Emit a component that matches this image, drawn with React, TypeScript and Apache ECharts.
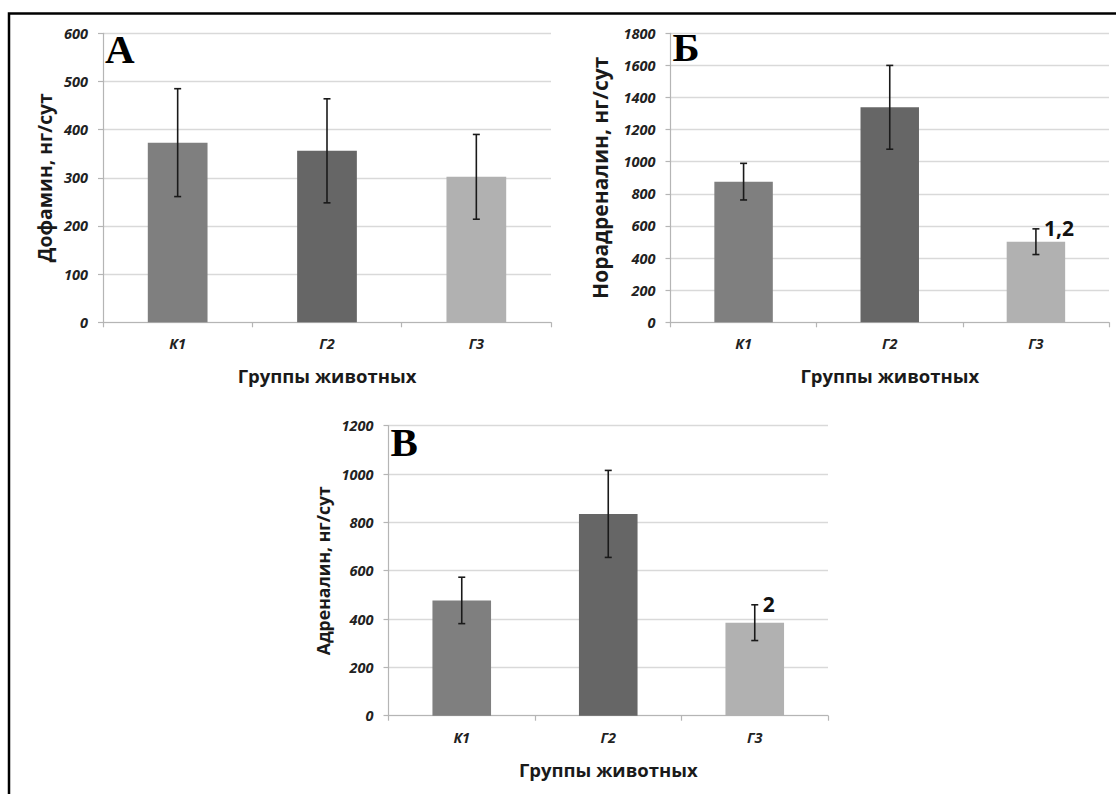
import { useEffect, useRef } from 'react';
import * as echarts from 'echarts';

const categories = ['К1', 'Г2', 'Г3'];
const dopamine = [373, 356, 302];
const dopamineErr = [112, 108, 88];
const noradrenaline = [876, 1339, 502];
const noradrenalineErr = [114, 261, 80];
const adrenaline = [477, 835, 385];
const adrenalineErr = [96, 180, 74];
const notesA = ['', '', ''];
const notesB = ['', '', '1,2'];
const notesC = ['', '', '2'];
const panelLetters = ['А', 'Б', 'В'];
const yNames = ['Дофамин, нг/сут', 'Норадреналин, нг/сут', 'Адреналин, нг/сут'];
const xName = 'Группы животных';
const yMax = [600, 1800, 1200];
const yStep = [100, 200, 200];

const barColors = ['#7f7f7f', '#666666', '#b1b1b1'];
const SANS = '"Open Sans", sans-serif';
const TICKFONT = '"Open Sans", sans-serif';

export default function App() {
  const ref = useRef<HTMLDivElement>(null);
  useEffect(() => {
    if (!ref.current) return;
    const chart = echarts.init(ref.current, undefined, { renderer: 'svg' });
    const grids = [
      { left: 103, top: 33.3, width: 448, height: 289 },
      { left: 670.5, top: 33.3, width: 438.5, height: 289 },
      { left: 388.5, top: 425.7, width: 439.5, height: 290 },
    ];
    const nameGaps = [49, 60, 56.5];
    const nameSizes = [19.3, 21, 17.6];
    const values = [dopamine, noradrenaline, adrenaline];
    const errs = [dopamineErr, noradrenalineErr, adrenalineErr];
    const notes = [notesA, notesB, notesC];

    const errRender = (nts: string[]) => (params: any, api: any) => {
      const i = api.value(0);
      const mean = api.value(1);
      const e = api.value(2);
      const top = api.coord([i, mean + e]);
      const bot = api.coord([i, mean - e]);
      const hw = 3.5;
      const style = { stroke: '#1a1a1a', lineWidth: 1.6 };
      const children: any[] = [
        { type: 'line', shape: { x1: top[0], y1: top[1], x2: bot[0], y2: bot[1] }, style },
        { type: 'line', shape: { x1: top[0] - hw, y1: top[1], x2: top[0] + hw, y2: top[1] }, style },
        { type: 'line', shape: { x1: bot[0] - hw, y1: bot[1], x2: bot[0] + hw, y2: bot[1] }, style },
      ];
      const note = nts[params.dataIndex];
      if (note) {
        children.push({
          type: 'text',
          x: top[0] + 8,
          y: top[1] - 1,
          style: {
            text: note,
            fontFamily: SANS,
            fontWeight: 'bold',
            fontSize: 21,
            fill: '#111',
            align: 'left',
            verticalAlign: 'middle',
          },
        });
      }
      return { type: 'group', children };
    };

    const tickLabel = {
      fontFamily: TICKFONT,
      fontWeight: 'bold',
      fontStyle: 'italic',
      fontSize: 14.5,
      color: '#222',
    };

    const option: any = {
      animation: false,
      backgroundColor: '#fff',
      grid: grids,
      xAxis: grids.map((_, g) => ({
        gridIndex: g,
        type: 'category',
        data: categories,
        name: xName,
        nameLocation: 'middle',
        nameGap: 44,
        nameTextStyle: { fontFamily: SANS, fontWeight: 'bold', fontSize: 18.5, color: '#1a1a1a' },
        axisLine: { lineStyle: { color: '#b5b5b5', width: 1.2 } },
        axisTick: { show: true, length: 5, lineStyle: { color: '#b5b5b5', width: 1.2 } },
        axisLabel: { margin: 14, ...tickLabel },
      })),
      yAxis: grids.map((_, g) => ({
        gridIndex: g,
        type: 'value',
        min: 0,
        max: yMax[g],
        interval: yStep[g],
        name: yNames[g],
        nameLocation: 'middle',
        nameGap: nameGaps[g],
        nameTextStyle: { fontFamily: SANS, fontWeight: 'bold', fontSize: nameSizes[g], color: '#1a1a1a' },
        axisLine: { show: true, lineStyle: { color: '#b5b5b5', width: 1.2 } },
        axisTick: { show: true, length: 5, lineStyle: { color: '#b5b5b5', width: 1.2 } },
        axisLabel: { margin: 15, formatter: (v: number) => String(v), ...tickLabel },
        splitLine: { show: true, lineStyle: { color: '#d9d9d9', width: 1.4 } },
      })),
      series: [
        ...values.map((vals, g) => ({
          type: 'bar',
          xAxisIndex: g,
          yAxisIndex: g,
          barWidth: '40%',
          data: vals.map((v, i) => ({ value: v, itemStyle: { color: barColors[i] } })),
        })),
        ...values.map((vals, g) => ({
          type: 'custom',
          xAxisIndex: g,
          yAxisIndex: g,
          z: 5,
          renderItem: errRender(notes[g]),
          encode: { x: 0, y: 1 },
          data: vals.map((v, i) => [i, v, errs[g][i]]),
        })),
      ],
      graphic: [
        {
          type: 'rect',
          shape: { x: 9, y: 13.5, width: 1200, height: 900 },
          style: { fill: 'none', stroke: '#000', lineWidth: 2.5 },
          silent: true,
        },
        ...grids.map((gr, g) => ({
          type: 'text',
          x: gr.left + 2,
          y: [49, 47, 441.5][g],
          style: {
            text: panelLetters[g],
            fontFamily: '"Liberation Serif", serif',
            fontWeight: 'bold',
            fontSize: 41,
            fill: '#000',
            align: 'left',
            verticalAlign: 'middle',
          },
        })),
      ],
    };
    chart.setOption(option);
    return () => chart.dispose();
  }, []);
  return (
    <div
      ref={ref}
      style={{ position: 'absolute', left: 0, top: 0, width: 1116, height: 794 }}
    />
  );
}
